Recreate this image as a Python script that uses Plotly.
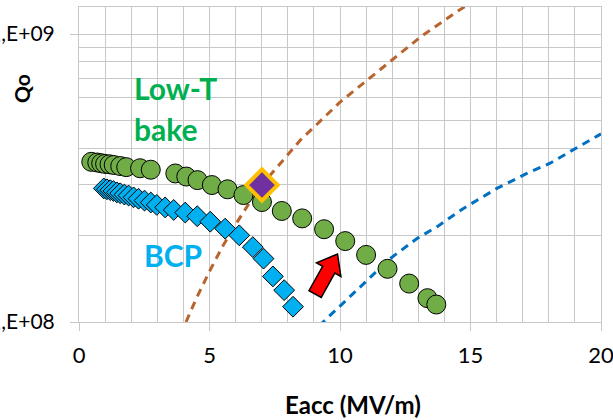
import plotly.graph_objects as go

# ---- data ----
bcp_eacc = [0.95, 1.07, 1.20, 1.32, 1.45, 1.58, 1.74, 1.90, 2.09, 2.28, 2.51, 2.75, 2.98,
            3.30, 3.63, 4.07, 4.53, 5.03, 5.60, 6.14, 6.66, 7.07, 7.43, 7.86, 8.20]
bcp_q = [2.91e8, 2.89e8, 2.87e8, 2.85e8, 2.82e8, 2.80e8, 2.77e8, 2.75e8, 2.71e8, 2.68e8,
         2.64e8, 2.60e8, 2.55e8, 2.50e8, 2.45e8, 2.40e8, 2.33e8, 2.23e8, 2.11e8, 2.00e8,
         1.82e8, 1.66e8, 1.44e8, 1.29e8, 1.13e8]

lowt_eacc = [0.47, 0.70, 0.85, 1.00, 1.17, 1.33, 1.58, 1.81, 2.34, 2.75, 3.69, 4.11, 4.54,
             5.09, 5.69, 6.30, 7.01, 7.77, 8.55, 9.39, 10.20, 11.00, 11.82, 12.65, 13.35, 13.69]
lowt_q = [3.60e8, 3.58e8, 3.56e8, 3.54e8, 3.53e8, 3.51e8, 3.48e8, 3.45e8, 3.42e8, 3.38e8,
          3.28e8, 3.20e8, 3.11e8, 2.99e8, 2.89e8, 2.76e8, 2.61e8, 2.43e8, 2.29e8, 2.10e8,
          1.91e8, 1.71e8, 1.53e8, 1.36e8, 1.21e8, 1.15e8]

point_eacc = [7.01]
point_q = [2.99e8]

brown_eacc = [4.1, 4.5, 5.0, 5.5, 6.0, 6.5, 7.0, 7.7, 8.5, 9.0, 10.0, 11.4, 12.2, 13.1, 14.5, 15.3]
brown_q = [1.0e8, 1.21e8, 1.5e8, 1.83e8, 2.18e8, 2.57e8, 2.99e8, 3.55e8, 4.3e8, 4.75e8,
           5.8e8, 7.35e8, 8.4e8, 9.8e8, 1.2e9, 1.33e9]

blue_eacc = [9.2, 9.88, 10.39, 11.03, 11.92, 12.95, 13.71, 14.73, 16.01, 17.16, 18.05, 18.82, 19.9, 20.0]
blue_q = [0.97e8, 1.11e8, 1.23e8, 1.39e8, 1.66e8, 1.95e8, 2.14e8, 2.48e8, 2.91e8, 3.28e8,
          3.56e8, 3.91e8, 4.45e8, 4.5e8]

x_tickvals = [0, 5, 10, 15, 20]
x_minor = [i for i in range(0, 21)]
y_tickvals = [1e8, 1e9]
y_ticktext = ["1,E+08", "1,E+09"]
y_minor = [2e8, 3e8, 4e8, 5e8, 6e8, 7e8, 8e8, 9e8]

FONT = "Lato"
GRID = "#C8C8C8"

W, H = 613, 420
ML, MR, MT, MB = 79, 12, 7, 98
PW, PH = W - ML - MR, H - MT - MB


def pp(px, py):
    """pixel position in figure -> paper coords"""
    return (px - ML) / PW, (H - MB - py) / PH


fig = go.Figure()

fig.add_trace(go.Scatter(x=brown_eacc, y=brown_q, mode="lines",
                         line=dict(color="#B8642E", width=3, dash="8px,6px"),
                         hoverinfo="skip", showlegend=False))
fig.add_trace(go.Scatter(x=blue_eacc, y=blue_q, mode="lines",
                         line=dict(color="#0070C0", width=3, dash="8px,6px"),
                         hoverinfo="skip", showlegend=False))
fig.add_trace(go.Scatter(x=bcp_eacc, y=bcp_q, mode="markers", name="BCP",
                         marker=dict(symbol="diamond", size=16, color="#00B0F0",
                                     line=dict(color="black", width=1)),
                         showlegend=False))
fig.add_trace(go.Scatter(x=lowt_eacc, y=lowt_q, mode="markers", name="Low-T bake",
                         marker=dict(symbol="circle", size=19, color="#70AD47",
                                     line=dict(color="black", width=1)),
                         showlegend=False))
fig.add_trace(go.Scatter(x=point_eacc, y=point_q, mode="markers",
                         marker=dict(symbol="diamond", size=24, color="#7030A0",
                                     line=dict(color="#FFC000", width=4)),
                         showlegend=False))

# red block arrow (paper coords)
arrow_px = [(337.5, 254.0), (340.9, 276.5), (334.8, 273.1), (321.2, 297.5),
            (309.0, 290.7), (322.6, 266.3), (316.5, 262.9)]
pts = [pp(a, b) for a, b in arrow_px]
path = "M " + " L ".join(f"{u:.4f},{v:.4f}" for u, v in pts) + " Z"
fig.add_shape(type="path", path=path, xref="paper", yref="paper",
              fillcolor="#FF0000", line=dict(color="black", width=1.5), layer="above")

annos = []
u, v = pp(131.5, 88)
annos.append(dict(x=u, y=v, text="<b>Low-T</b>", font=dict(family=FONT, size=30, color="#00B050")))
u, v = pp(131.5, 129)
annos.append(dict(x=u, y=v, text="<b>bake</b>", font=dict(family=FONT, size=30, color="#00B050")))
u, v = pp(142, 255)
annos.append(dict(x=u, y=v, text="<b>BCP</b>", font=dict(family=FONT, size=30, color="#00B0F0")))
for a in annos:
    a.update(xref="paper", yref="paper", xanchor="left", yanchor="middle", showarrow=False)
    fig.add_annotation(**a)

u, v = pp(353, 404)
fig.add_annotation(x=u, y=v, xref="paper", yref="paper", text="<b>Eacc (MV/m)</b>",
                   showarrow=False, xanchor="center", yanchor="middle",
                   font=dict(family=FONT, size=24, color="black"))
u, v = pp(22, 89)
fig.add_annotation(x=u, y=v, xref="paper", yref="paper", text="<b>Qo</b>", textangle=-90,
                   showarrow=False, xanchor="center", yanchor="middle",
                   font=dict(family=FONT, size=21, color="black"))

fig.update_xaxes(range=[0, 20], tickvals=x_tickvals, showgrid=True, gridcolor=GRID, gridwidth=1,
                 zeroline=False, showline=True, linecolor=GRID, linewidth=1, mirror=True,
                 ticks="outside", ticklen=8, tickcolor=GRID, tickwidth=1,
                 ticklabelstandoff=6, automargin=False, ticklabeloverflow="allow",
                 tickfont=dict(family=FONT, size=22, color="black"),
                 minor=dict(tickvals=x_minor, showgrid=True, gridcolor=GRID, gridwidth=1, ticks=""))
fig.update_yaxes(type="log", range=[8, 9.094], tickvals=y_tickvals, ticktext=y_ticktext,
                 showgrid=True, gridcolor=GRID, gridwidth=1, zeroline=False,
                 showline=True, linecolor=GRID, linewidth=1, mirror=True,
                 ticks="outside", ticklen=8, tickcolor=GRID, tickwidth=1,
                 ticklabelstandoff=11, automargin=False, ticklabeloverflow="allow",
                 tickfont=dict(family=FONT, size=21, color="black"),
                 minor=dict(tickvals=y_minor, showgrid=True, gridcolor=GRID, gridwidth=1, ticks=""))

fig.update_layout(width=W, height=H, margin=dict(l=ML, r=MR, t=MT, b=MB, autoexpand=False),
                  plot_bgcolor="white", paper_bgcolor="white", showlegend=False,
                  font=dict(family=FONT))

fig.write_html("out.html", config={"displayModeBar": False},
               post_script="document.body.style.margin='0';document.body.style.overflow='hidden';")
